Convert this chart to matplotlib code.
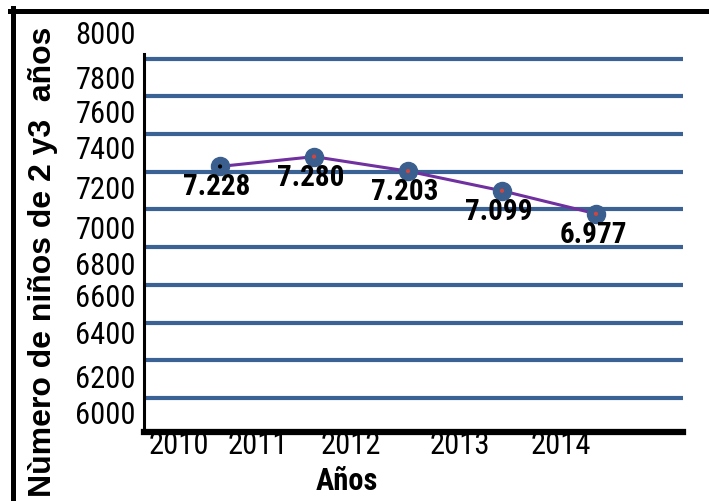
import matplotlib
matplotlib.use("Agg")
import matplotlib.pyplot as plt
from matplotlib.lines import Line2D

# datos
years = [2010, 2011, 2012, 2013, 2014]
ninos = [7228, 7280, 7203, 7099, 6977]

# lineas de la grilla y etiquetas del eje y (como en la imagen original, desalineadas)
grid_vals = [7800, 7600, 7400, 7200, 7000, 6800, 6600, 6400, 6200, 6000]
ytick_labels = ["8000", "7800", "7600", "7400", "7200", "7000",
                "6800", "6600", "6400", "6200", "6000"]
ytick_pos = [7936, 7702, 7517, 7331, 7119, 6902, 6716, 6546, 6350, 6112, 5926]
xtick_labels = ["2010", "2011", "2012", "2013", "2014"]
xtick_pos = [2009.56, 2010.40, 2011.39, 2012.55, 2013.63]
dot_colors = ["black", "#d0453f", "#d0453f", "#d0453f", "#d0453f"]

narrow = ["Roboto Condensed", "Open Sans Condensed", "DejaVu Sans"]

fig = plt.figure(figsize=(7.09, 5.01), dpi=100)
ax = fig.add_axes([144/709, 1 - 432/501, (683-144)/709, (432-15)/501])

ax.set_xlim(2009.191, 2014.926)
ax.set_ylim(5820, 8031)

# grilla
ax.set_yticks(grid_vals)
ax.set_yticklabels([])
ax.grid(axis="y", which="major", color="#3b6294", lw=3)
ax.set_yticks(ytick_pos, ytick_labels, minor=True)
ax.tick_params(axis="y", which="both", length=0)
ax.tick_params(axis="y", which="minor", pad=6)
for lab in ax.get_yticklabels(minor=True):
    lab.set_family(narrow)
    lab.set_stretch("condensed")
    lab.set_fontsize(22)

ax.set_xticks(xtick_pos, xtick_labels)
ax.tick_params(axis="x", length=0, pad=-1)
for lab in ax.get_xticklabels():
    lab.set_family(narrow)
    lab.set_stretch("condensed")
    lab.set_fontsize(22)

for s in ["top", "right"]:
    ax.spines[s].set_visible(False)
ax.spines["left"].set_linewidth(2.2)
ax.spines["left"].set_bounds(5820, 7822)
ax.spines["bottom"].set_linewidth(4.5)
ax.spines["bottom"].set_zorder(5)

# serie
ax.plot(years, ninos, color="#7030a0", lw=2.2, zorder=3)
ax.plot(years, ninos, "o", ms=13, color="#3a5f8f", zorder=4)
ax.scatter(years, ninos, s=4, c=dot_colors, zorder=5)

for x, y in zip(years, ninos):
    ax.annotate(f"{y:,}".replace(",", "."), (x, y), xytext=(-3, -21),
                textcoords="offset pixels", ha="center", va="center",
                fontsize=21, fontweight="bold", family=narrow,
                fontstretch="condensed", zorder=6)

ax.set_xlabel("Años", fontsize=22, fontweight="bold", family=narrow,
              fontstretch="condensed", va="center")
ax.xaxis.set_label_coords((347-144)/539, (432-481)/417)
fig.text(43/709, 1 - 262/501, "Nùmero de niños de 2 y3  años", rotation=90,
         fontsize=23, fontweight="bold", family=["Liberation Sans", "DejaVu Sans"],
         ha="center", va="center")

# marco negro de la imagen
fig.add_artist(Line2D([10/709, 1], [1 - 10.5/501, 1 - 10.5/501], color="black", lw=3.6))
fig.add_artist(Line2D([12.5/709, 12.5/709], [0, 1 - 8/501], color="black", lw=3.6))

fig.savefig("out.png", dpi=100)
